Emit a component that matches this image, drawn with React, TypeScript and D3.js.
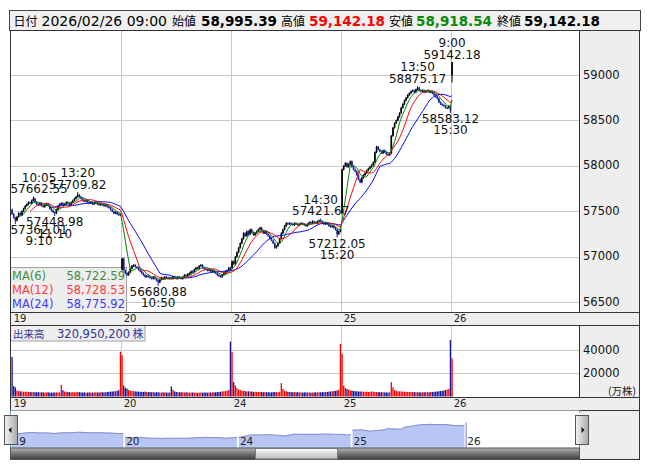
import React from 'react';
import * as d3 from 'd3';

// ---------------- data ----------------
const dayLabels = ['19', '20', '24', '25', '26'];
const dayOpen = [57520, 56860, 56880, 57480, 58995.39];

const day19Close = [
  57470, 57430, 57400, 57440, 57480, 57460, 57500, 57530, 57560, 57580,
  57600, 57590, 57620, 57640, 57600, 57580, 57570, 57590, 57560, 57550,
  57570, 57580, 57560, 57530, 57510, 57490, 57480, 57520, 57560, 57580,
  57590, 57570, 57580, 57600, 57590, 57570, 57600, 57620, 57640, 57660,
  57680, 57660, 57640, 57620, 57610, 57620, 57600, 57590, 57600, 57580,
  57590, 57600, 57580, 57570, 57580, 57570, 57560, 57570, 57550, 57540,
  57520, 57500, 57480, 57490, 57470, 57460, 57470,
];
const day20Close = [
  56980, 56850, 56820, 56800, 56830, 56870, 56900, 56910, 56890, 56880,
  56860, 56840, 56820, 56800, 56780, 56790, 56780, 56770, 56760, 56780,
  56760, 56740, 56720, 56750, 56770, 56760, 56780, 56770, 56760, 56770,
  56760, 56780, 56770, 56760, 56780, 56770, 56760, 56780, 56800, 56790,
  56810, 56820, 56840, 56830, 56860, 56880, 56870, 56900, 56910, 56880,
  56870, 56860, 56850, 56860, 56840, 56850, 56830, 56820, 56800, 56790,
  56780, 56800, 56820, 56840, 56850, 56880, 56860,
];
const day24Close = [
  56950, 56920, 57000, 57050, 57100, 57150, 57200, 57260, 57230, 57280,
  57250, 57300, 57270, 57240, 57260, 57280, 57300, 57320, 57290, 57260,
  57280, 57250, 57230, 57200, 57180, 57150, 57100, 57120, 57150, 57200,
  57260, 57300, 57340, 57370, 57360, 57370, 57360, 57350, 57370, 57360,
  57350, 57360, 57370, 57360, 57350, 57340, 57360, 57380, 57370, 57390,
  57380, 57370, 57390, 57400, 57390, 57370, 57360, 57370, 57360, 57340,
  57330, 57340, 57320, 57300, 57250, 57280, 57300,
];
const day25Close = [
  57960, 58000, 58030, 57990, 58020, 58050, 57990, 57960, 57940, 57900,
  57850, 57820, 57870, 57900, 57920, 57950, 57970, 57990, 58010, 58040,
  58150, 58210, 58180, 58160, 58140, 58170, 58150, 58130, 58120, 58140,
  58330, 58420, 58470, 58500, 58540, 58580, 58640, 58680, 58720, 58750,
  58780, 58800, 58820, 58830, 58810, 58840, 58860, 58830, 58820, 58830,
  58810, 58820, 58830, 58810, 58820, 58800, 58780, 58760, 58740, 58700,
  58680, 58670, 58660, 58640, 58640, 58660, 58610,
];
const day26Close = [59142.18];
const lastHigh = 59142.18;
const lastLow = 58918.54;

const day19Volume = [
  34000, 9000, 7800, 5200, 4600, 4400, 4300, 4100, 4000, 4200,
  3900, 3800, 4000, 3900, 3700, 3800, 3600, 3700, 3500, 3600,
  3400, 3500, 3600, 3400, 3300, 3500, 3400, 3600, 3300, 3500,
  10000, 5500, 4300, 4000, 3800, 3700, 3600, 3800, 3500, 3600,
  3900, 3700, 3500, 3400, 3600, 3300, 3400, 3500, 3300, 3400,
  3500, 3600, 3400, 3500, 3600, 3700, 3500, 3800, 3900, 4000,
  4100, 4300, 4400, 4600, 4900, 5400, 38500,
];
const day20Volume = [
  35500, 9500, 7500, 6800, 5600, 5000, 4700, 4500, 4400, 4200,
  4300, 4000, 4100, 3900, 4200, 3800, 3700, 3900, 3600, 3800,
  3500, 3700, 3600, 3500, 3400, 3600, 3500, 3400, 3300, 3500,
  8700, 5800, 4400, 4000, 3800, 3600, 3700, 3500, 3400, 3600,
  3500, 3300, 3400, 3500, 3300, 3400, 3200, 3300, 3400, 3300,
  3500, 3400, 3300, 3500, 3400, 3600, 3500, 3700, 3800, 3900,
  4100, 4300, 4500, 4700, 5000, 5600, 47200,
];
const day24Volume = [
  38500, 12400, 9500, 7200, 6000, 5500, 5000, 4800, 4600, 4400,
  4500, 4200, 4300, 4000, 4100, 3900, 4000, 3800, 3900, 3700,
  3800, 3600, 3700, 3500, 3600, 3800, 3900, 3700, 3600, 3800,
  11500, 6500, 5000, 4400, 4100, 3900, 3800, 3700, 3800, 3600,
  3700, 3500, 3600, 3400, 3500, 3600, 3400, 3500, 3300, 3400,
  3500, 3600, 3500, 3700, 3600, 3800, 3700, 3900, 4000, 4200,
  4300, 4500, 4700, 4900, 5300, 5900, 45200,
];
const day25Volume = [
  36500, 9500, 7500, 6500, 5800, 5300, 5000, 4800, 4500, 4600,
  4300, 4200, 4400, 4100, 4000, 4200, 3900, 4000, 4300, 4100,
  3800, 3900, 3700, 3800, 3600, 3700, 3500, 3600, 3400, 3600,
  12400, 7800, 5500, 4800, 4500, 4300, 4400, 4100, 4200, 4000,
  3900, 4000, 3800, 3900, 3700, 3800, 3600, 3700, 3500, 3600,
  3700, 3800, 3600, 3700, 3900, 3800, 4000, 4100, 4300, 4500,
  4700, 4900, 5200, 5600, 6000, 6400, 48700,
];
const day26Volume = [32800];

const priceTicks = [59000, 58500, 58000, 57500, 57000, 56500];
const volumeTicks = [40000, 20000];

const extremeDay = [0, 0, 0, 0, 1, 2, 2, 3, 3, 4];
const extremeIndex = [13, 40, 2, 26, 22, 54, 64, 46, 66, 0];
const extremeValue = [57662.55, 57709.82, 57362.01, 57448.98, 56680.88, 57421.67, 57212.05, 58875.17, 58583.12, 59142.18];
const extremeTime = ['10:05', '13:20', '9:10', '11:10', '10:50', '14:30', '15:20', '13:50', '15:30', '9:00'];
const extremeKind = ['H', 'H', 'L', 'L', 'L', 'H', 'L', 'H', 'L', 'H'];

const maPeriods = [6, 12, 24];
const maNames = ['MA(6)', 'MA(12)', 'MA(24)'];
const maLatest = ['58,722.59', '58,728.53', '58,775.92'];

const headerLabels = ['日付', '始値', '高値', '安値', '終値'];
const headerValues = ['2026/02/26 09:00', '58,995.39', '59,142.18', '58,918.54', '59,142.18'];
const volumeTitle = '出来高';
const volumeTotal = '320,950,200';
const volumeShares = '株';
const volumeUnit = '(万株)';

// ---------------- rendering ----------------
const FONT = "'DejaVu Sans', 'Noto Sans', sans-serif";
const CJK = "'Noto Sans CJK JP', 'DejaVu Sans', sans-serif";
const BPD = 67;
const WICK = 10;

type Bar = { g: number; d: number; i: number; o: number; h: number; l: number; c: number; v: number };

function buildBars(): Bar[] {
  const closes = [day19Close, day20Close, day24Close, day25Close, day26Close];
  const vols = [day19Volume, day20Volume, day24Volume, day25Volume, day26Volume];
  const out: Bar[] = [];
  closes.forEach((arr, d) => {
    arr.forEach((c, i) => {
      const o = i === 0 ? dayOpen[d] : arr[i - 1];
      let h = Math.max(o, c) + WICK;
      let l = Math.min(o, c) - WICK;
      if (d === 4) { h = lastHigh; l = lastLow; }
      extremeDay.forEach((ed, k) => {
        if (ed === d && extremeIndex[k] === i) {
          if (extremeKind[k] === 'H') h = extremeValue[k];
          else l = extremeValue[k];
        }
      });
      out.push({ g: d * BPD + i, d, i, o, h, l, c, v: vols[d][i] });
    });
  });
  return out;
}

export default function App() {
  const L = 10.5, R = 579.5, AR = 639.5;
  const priceTop = 30.5, priceBottom = 312.5;
  const volTop = 325.5, volBottom = 397.5;
  const navTop = 410.5, navBottom = 448, scrollBottom = 459.5;

  const bars = buildBars();
  const x = d3.scaleLinear().domain([0, BPD]).range([11.25, 121.25]);
  const y = d3.scaleLinear().domain([56500, 59000]).range([302.3, 75]);
  const yv = d3.scaleLinear().domain([0, 40000]).range([396.5, 350]);
  const xn = d3.scaleLinear().domain([0, BPD * 5]).range([10.5, 579]);
  const yn = d3.scaleLinear().domain([55300, 61000]).range([448, 410]);

  const closes = bars.map((b) => b.c);
  const maSeries = maPeriods.map((n) =>
    bars.map((_, i) => (i >= n - 1 ? (d3.mean(closes.slice(i - n + 1, i + 1)) as number) : null))
  );
  const maLine = d3
    .line<number | null>()
    .defined((v) => v != null)
    .x((_, i) => x(bars[i].g + 0.5))
    .y((v) => y(v as number));
  const maColors = ['#008000', '#ff0000', '#0000ff'];
  const maTextColors = ['#3f8f3f', '#ff3b3b', '#3b3bff'];

  const upC = '#000000', downC = '#1a1aa8';
  const volUp = '#ff0000', volDown = '#12129c';

  const dayStarts = dayLabels.map((_, d) => d * BPD);
  const navArea = d3.area<Bar>().x((b) => xn(b.g + 0.5)).y0(navBottom).y1((b) => yn(b.c));
  const navLine = d3.line<Bar>().x((b) => xn(b.g + 0.5)).y((b) => yn(b.c));

  const grid = '#c8c8c8';
  const panelBg = '#eeeeee';
  const border = '#333333';

  // header layout
  const hx = { lab: [13.5, 172, 281, 389, 497], val: [41.5, 201, 309, 416, 524] };
  const hColors = ['#000', '#000', '#ff0000', '#0a8a0a', '#000'];

  return (
    <svg width={653} height={470} style={{ position: 'absolute', left: 0, top: 0 }} fontFamily={FONT}>
      <defs>
        <clipPath id="pclip"><rect x={L} y={priceTop} width={R - L} height={priceBottom - priceTop} /></clipPath>
        <clipPath id="vclip"><rect x={L} y={volTop} width={R - L} height={volBottom - volTop} /></clipPath>
        <clipPath id="nclip"><rect x={L} y={navTop} width={R - L} height={navBottom - navTop} /></clipPath>
        <linearGradient id="track" x1="0" y1="0" x2="0" y2="1">
          <stop offset="0" stopColor="#b4b4b4" />
          <stop offset="0.45" stopColor="#7a7a7a" />
          <stop offset="1" stopColor="#3c3c3c" />
        </linearGradient>
        <linearGradient id="thumb" x1="0" y1="0" x2="0" y2="1">
          <stop offset="0" stopColor="#ffffff" />
          <stop offset="1" stopColor="#b8b8b8" />
        </linearGradient>
        <linearGradient id="btn" x1="0" y1="0" x2="1" y2="0">
          <stop offset="0" stopColor="#f4f4f4" />
          <stop offset="1" stopColor="#a8a8a8" />
        </linearGradient>
      </defs>
      <rect x={0} y={0} width={653} height={470} fill="#ffffff" />

      {/* header */}
      <rect x={9.5} y={10.5} width={631} height={20} fill="#f0f0f0" stroke="#444" />
      {headerLabels.map((t, k) => (
        <text key={'hl' + k} x={hx.lab[k]} y={26} fontFamily={CJK} fontSize={12} fill="#000">{t}</text>
      ))}
      {headerValues.map((t, k) => (
        <text key={'hv' + k} x={hx.val[k]} y={26} fontSize={k === 0 ? 14 : 13.5} fontWeight={k === 0 ? 400 : 700} fill={hColors[k]}>{t}</text>
      ))}

      {/* price panel */}
      <rect x={L} y={priceTop} width={R - L} height={priceBottom - priceTop} fill="#fff" />
      <rect x={R} y={priceTop} width={AR - R} height={priceBottom - priceTop} fill={panelBg} />
      {priceTicks.map((t) => (
        <line key={'pg' + t} x1={L} x2={R} y1={Math.round(y(t)) + 0.5} y2={Math.round(y(t)) + 0.5} stroke={grid} />
      ))}
      {dayStarts.slice(1).map((g) => (
        <line key={'pv' + g} x1={Math.round(x(g)) + 0.5} x2={Math.round(x(g)) + 0.5} y1={priceTop} y2={priceBottom} stroke={grid} />
      ))}
      {priceTicks.map((t) => (
        <text key={'pt' + t} x={583} y={y(t) + 3.5} fontSize={11.5} fill="#111">{t}</text>
      ))}

      {/* MA legend box */}
      <rect x={L} y={267.5} width={116} height={priceBottom - 267.5} fill={panelBg} stroke="#a0a0a0" />
      {maNames.map((n, k) => (
        <g key={'ml' + k}>
          <text x={12} y={280 + k * 14} fontSize={11.5} fill={maTextColors[k]}>{n}</text>
          <text x={125} y={280 + k * 14} fontSize={11.5} fill={maTextColors[k]} textAnchor="end">{maLatest[k]}</text>
        </g>
      ))}

      <g clipPath="url(#pclip)">
        {bars.map((b) => {
          const cx = x(b.g + 0.5);
          const col = b.c >= b.o ? upC : downC;
          const top = y(Math.max(b.o, b.c));
          const bot = y(Math.min(b.o, b.c));
          return (
            <g key={'c' + b.g}>
              <line x1={cx} x2={cx} y1={y(b.h)} y2={y(b.l)} stroke={col} strokeWidth={1} />
              <rect x={cx - 0.8} y={top} width={1.6} height={Math.max(1, bot - top)} fill={col} />
            </g>
          );
        })}
        {[2, 1, 0].map((k) => (
          <path key={'ma' + k} d={maLine(maSeries[k]) || ''} fill="none" stroke={maColors[k]} strokeWidth={1} />
        ))}
      </g>

      {/* extreme labels */}
      {extremeValue.map((v, k) => {
        const b = bars.find((bb) => bb.d === extremeDay[k] && bb.i === extremeIndex[k])!;
        const price = v.toFixed(2);
        const w = price.length * 7.15;
        const cx = Math.max(L + w / 2, Math.min(R - w / 2, x(b.g + 0.5)));
        const yy = y(v);
        const isH = extremeKind[k] === 'H';
        return (
          <g key={'ex' + k} fontSize={12} fill="#111" textAnchor="middle">
            <text x={cx} y={isH ? yy - 15 : yy + 21.5}>{extremeTime[k]}</text>
            <text x={cx} y={isH ? yy - 3.5 : yy + 10}>{price}</text>
          </g>
        );
      })}
      <rect x={L} y={priceTop} width={AR - L} height={priceBottom - priceTop} fill="none" stroke={border} />
      <line x1={R} x2={R} y1={priceTop} y2={priceBottom} stroke={border} />

      {/* date row 1 */}
      <rect x={L} y={priceBottom} width={AR - L} height={volTop - priceBottom} fill={panelBg} stroke={border} />
      {dayStarts.map((g, d) => (
        <text key={'d1' + d} x={x(g) + 2.5} y={322} fontSize={10} fill="#222">{dayLabels[d]}</text>
      ))}

      {/* volume panel */}
      <rect x={R} y={volTop} width={AR - R} height={volBottom - volTop} fill={panelBg} />
      {volumeTicks.map((t) => (
        <line key={'vg' + t} x1={L} x2={R} y1={Math.round(yv(t)) + 0.5} y2={Math.round(yv(t)) + 0.5} stroke={grid} />
      ))}
      {dayStarts.slice(1).map((g) => (
        <line key={'vv' + g} x1={Math.round(x(g)) + 0.5} x2={Math.round(x(g)) + 0.5} y1={volTop} y2={volBottom} stroke={grid} />
      ))}
      <g clipPath="url(#vclip)">
        {bars.map((b) => (
          <rect key={'v' + b.g} x={x(b.g + 0.5) - 0.65} y={yv(b.v)} width={1.3} height={yv(0) - yv(b.v)} fill={b.c >= b.o ? volUp : volDown} />
        ))}
      </g>
      {volumeTicks.map((t) => (
        <text key={'vt' + t} x={583} y={yv(t) + 4} fontSize={11.5} fill="#111">{t}</text>
      ))}
      <text x={608} y={395} fontFamily={CJK} fontSize={10.5} fill="#222">{volumeUnit}</text>
      <rect x={L} y={volTop} width={134.5} height={15.5} fill={panelBg} stroke="#a0a0a0" />
      <text x={13} y={337.5} fontFamily={CJK} fontSize={10.5} fill="#333399">{volumeTitle}</text>
      <text x={57} y={337.5} fontSize={11.5} fill="#333399">{volumeTotal}</text>
      <text x={132.5} y={337.5} fontFamily={CJK} fontSize={11} fill="#333399">{volumeShares}</text>
      <rect x={L} y={volTop} width={AR - L} height={volBottom - volTop} fill="none" stroke={border} />
      <line x1={R} x2={R} y1={volTop} y2={volBottom} stroke={border} />

      {/* date row 2 */}
      <rect x={L} y={volBottom} width={AR - L} height={navTop - volBottom} fill={panelBg} stroke={border} />
      {dayStarts.map((g, d) => (
        <text key={'d2' + d} x={x(g) + 2.5} y={407} fontSize={10} fill="#222">{dayLabels[d]}</text>
      ))}

      {/* navigator */}
      <rect x={L} y={navTop} width={AR - L} height={scrollBottom - navTop} fill={panelBg} stroke={border} />
      <rect x={L} y={navTop} width={R - L} height={navBottom - navTop} fill="#fff" />
      <g clipPath="url(#nclip)">
        {dayLabels.map((_, d) => {
          const db = bars.filter((b) => b.d === d);
          if (db.length < 2) {
            const b = db[0];
            return <line key={'na' + d} x1={xn(b.g + 0.5)} x2={xn(b.g + 0.5)} y1={yn(b.c)} y2={navBottom} stroke="#7b82c8" />;
          }
          return (
            <g key={'na' + d}>
              <path d={navArea(db) || ''} fill="#b8c6f4" />
              <path d={navLine(db) || ''} fill="none" stroke="#7b82c8" strokeWidth={1} />
            </g>
          );
        })}
      </g>
      {dayStarts.map((g, d) => (
        <text key={'nl' + d} x={xn(g) + 2} y={445} fontSize={10.5} fill="#222">{dayLabels[d]}</text>
      ))}
      <line x1={L} x2={L} y1={navTop} y2={413} stroke="#3cb4e6" />
      <line x1={L} x2={L} y1={445} y2={navBottom} stroke="#3cb4e6" />
      <line x1={R} x2={R} y1={navTop} y2={413} stroke="#3cb4e6" />
      <line x1={R} x2={R} y1={445} y2={navBottom} stroke="#3cb4e6" />

      {/* scrollbar */}
      <rect x={L} y={navBottom} width={R - L} height={scrollBottom - navBottom} fill="url(#track)" stroke="#555" />
      <rect x={255.5} y={navBottom + 0.5} width={82} height={scrollBottom - navBottom - 1} fill="url(#thumb)" stroke="#777" />

      {/* buttons */}
      <rect x={4.5} y={415.5} width={13} height={29} fill="url(#btn)" stroke="#555" />
      <path d="M8.5,430 L11.5,427 L11.5,433 Z" fill="#111" />
      <rect x={575.5} y={415.5} width={13} height={29} fill="url(#btn)" stroke="#555" />
      <path d="M584.5,430 L581.5,427 L581.5,433 Z" fill="#111" />
    </svg>
  );
}
